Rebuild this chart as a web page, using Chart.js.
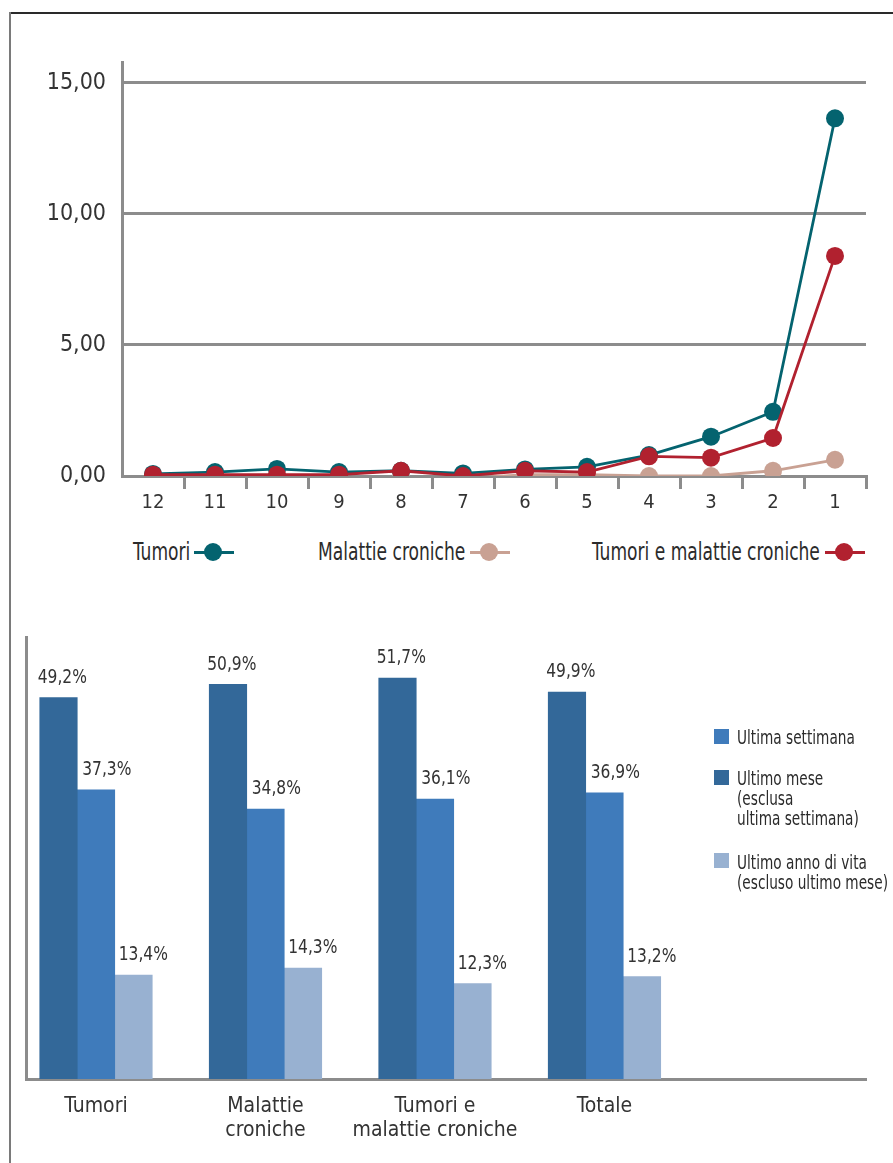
<!DOCTYPE html>
<html><head><meta charset="utf-8">
<script src="https://cdn.jsdelivr.net/npm/chart.js@4/dist/chart.umd.min.js"></script>
<style>
html,body{margin:0;padding:0;background:#fff;}
body{width:893px;height:1163px;position:relative;overflow:hidden;font-family:"Liberation Sans Narrow","DejaVu Sans Condensed",sans-serif;color:#2b2b2b;}
#frameTop{position:absolute;left:9px;top:12px;width:884px;height:2px;background:#2a2a2a;}
#frameLeft{position:absolute;left:9px;top:12px;width:2px;height:1151px;background:#7a7a7a;}
#c1{position:absolute;left:0;top:0;}
#c2{position:absolute;left:0;top:600px;}
.li{position:absolute;top:538px;font-size:25px;line-height:28px;white-space:nowrap;transform:scaleX(0.76);transform-origin:0 0;}
.sym{position:absolute;top:540px;width:40px;height:24px;}
.sym::before{content:'';position:absolute;left:0;right:0;top:11px;height:3px;background:var(--c);}
.sym::after{content:'';position:absolute;left:10px;top:3px;width:18px;height:18px;border-radius:50%;background:var(--c);}
.bl{position:absolute;left:714px;}
.bl .sq{position:absolute;left:0;width:15px;height:15px;}
.bl .t{position:absolute;left:23px;top:0;white-space:nowrap;font-size:20px;line-height:20px;transform:scaleX(0.76);transform-origin:0 0;}
</style>
</head><body>
<div id="frameTop"></div><div id="frameLeft"></div>
<canvas id="c1" width="893" height="520"></canvas>
<div class="li" style="left:133px">Tumori</div><div class="sym" style="left:194px;--c:#04636f"></div>
<div class="li" style="left:318px">Malattie croniche</div><div class="sym" style="left:470px;--c:#c9a193"></div>
<div class="li" style="left:592px">Tumori e malattie croniche</div><div class="sym" style="left:825px;--c:#b1212f"></div>
<canvas id="c2" width="893" height="563"></canvas>
<div class="bl" style="top:727px"><div class="sq" style="top:2px;background:#3f7bbb"></div><div class="t">Ultima settimana</div></div>
<div class="bl" style="top:768px"><div class="sq" style="top:2px;background:#336899"></div><div class="t">Ultimo mese<br>(esclusa<br>ultima settimana)</div></div>
<div class="bl" style="top:852px"><div class="sq" style="top:1px;background:#98b1d1"></div><div class="t">Ultimo anno di vita<br>(escluso ultimo mese)</div></div>
<script>
// ---- Line chart data ----
const months = ['12','11','10','9','8','7','6','5','4','3','2','1'];
const tumori = [0.08, 0.15, 0.27, 0.15, 0.2, 0.1, 0.25, 0.35, 0.8, 1.5, 2.45, 13.65];
const malattieCroniche = [0, 0, 0, -0.05, -0.05, -0.1, 0.05, 0.05, 0, 0, 0.2, 0.62];
const tumoriMalattie = [0.05, 0.05, 0.05, 0.05, 0.2, 0, 0.2, 0.15, 0.75, 0.7, 1.45, 8.4];
const yTicksLine = [0, 5, 10, 15];

// ---- Bar chart data ----
const groups = [['Tumori'], ['Malattie', 'croniche'], ['Tumori e', 'malattie croniche'], ['Totale']];
const ultimoMese = [49.2, 50.9, 51.7, 49.9];
const ultimaSettimana = [37.3, 34.8, 36.1, 36.9];
const ultimoAnno = [13.4, 14.3, 12.3, 13.2];

const FONT = '"Liberation Sans Narrow","DejaVu Sans Condensed",sans-serif';
const GRID = '#8c8c8c';

new Chart(document.getElementById('c1'), {
  type: 'line',
  data: {
    labels: months,
    datasets: [
      {label: 'Tumori e malattie croniche', data: tumoriMalattie, borderColor: '#b1212f', backgroundColor: '#b1212f', order: 0},
      {label: 'Tumori', data: tumori, borderColor: '#04636f', backgroundColor: '#04636f', order: 1},
      {label: 'Malattie croniche', data: malattieCroniche, borderColor: '#c9a193', backgroundColor: '#c9a193', order: 2}
    ]
  },
  options: {
    responsive: false, animation: false,
    elements: {line: {borderWidth: 2.8, tension: 0}, point: {radius: 9, borderWidth: 0}},
    layout: {padding: {top: 62, right: 27, left: 0, bottom: 0}},
    plugins: {legend: {display: false}, tooltip: {enabled: false}},
    scales: {
      x: {
        offset: true,
        grid: {display: true, offset: true, drawOnChartArea: false, drawTicks: true, tickLength: 13,
               color: ctx => ctx.index === 0 ? 'rgba(0,0,0,0)' : GRID, lineWidth: 3},
        border: {display: true, color: GRID, width: 3},
        ticks: {font: {family: FONT, size: 20}, color: '#333', padding: 2, maxRotation: 0},
        afterFit(s) { s.height = 44; }
      },
      y: {
        min: 0, max: 15.8,
        grid: {color: GRID, lineWidth: 3, drawTicks: false},
        border: {display: true, color: GRID, width: 3},
        ticks: {padding: 16, font: {family: FONT, size: 23}, color: '#333',
                callback: v => v.toFixed(2).replace('.', ',')},
        afterBuildTicks(s) { s.ticks = yTicksLine.map(v => ({value: v})); },
        afterFit(s) { s.width = 122; }
      }
    }
  }
});

const barLabelPlugin = {
  id: 'barLabels',
  afterDatasetsDraw(chart, args, opts) {
    const ctx = chart.ctx;
    ctx.save();
    ctx.font = '20px ' + FONT;
    ctx.fillStyle = '#333';
    ctx.textAlign = 'left';
    ctx.textBaseline = 'bottom';
    chart.data.datasets.forEach((ds, di) => {
      const meta = chart.getDatasetMeta(di);
      meta.data.forEach((el, i) => {
        const v = ds.data[i].y;
        const txt = v.toFixed(1).replace('.', ',') + '%';
        ctx.save();
        ctx.translate(el.x - el.width / 2 + opts.offsets[di], el.y - 10);
        ctx.scale(0.86, 1);
        ctx.fillText(txt, 0, 0);
        ctx.restore();
      });
    });
    ctx.restore();
  }
};

const toPts = arr => arr.map((v, i) => ({x: i, y: v}));

new Chart(document.getElementById('c2'), {
  type: 'bar',
  data: {
    datasets: [
      {label: 'Ultimo mese (esclusa ultima settimana)', data: toPts(ultimoMese), backgroundColor: '#336899'},
      {label: 'Ultima settimana', data: toPts(ultimaSettimana), backgroundColor: '#3f7bbb'},
      {label: 'Ultimo anno di vita (escluso ultimo mese)', data: toPts(ultimoAnno), backgroundColor: '#98b1d1'}
    ]
  },
  plugins: [barLabelPlugin],
  options: {
    responsive: false, animation: false,
    barThickness: 37.5,
    layout: {padding: {top: 37, right: 27, left: 0, bottom: 0}},
    plugins: {legend: {display: false}, tooltip: {enabled: false}, barLabels: {offsets: [-2, 5, 4]}},
    scales: {
      x: {
        type: 'linear', min: -0.413, max: 4.543, offset: false,
        grid: {display: false, drawTicks: false},
        border: {display: true, color: GRID, width: 3},
        ticks: {stepSize: 1, includeBounds: false, autoSkip: false, maxRotation: 0,
                font: {family: FONT, size: 21, lineHeight: 1.15}, color: '#333', padding: 15,
                callback: v => groups[v] || ''},
        afterFit(s) { s.height = 84; }
      },
      y: {
        min: 0, max: 57,
        grid: {display: false, drawTicks: false},
        border: {display: true, color: GRID, width: 3},
        ticks: {display: false},
        afterFit(s) { s.width = 26; }
      }
    }
  }
});
</script>
</body></html>
